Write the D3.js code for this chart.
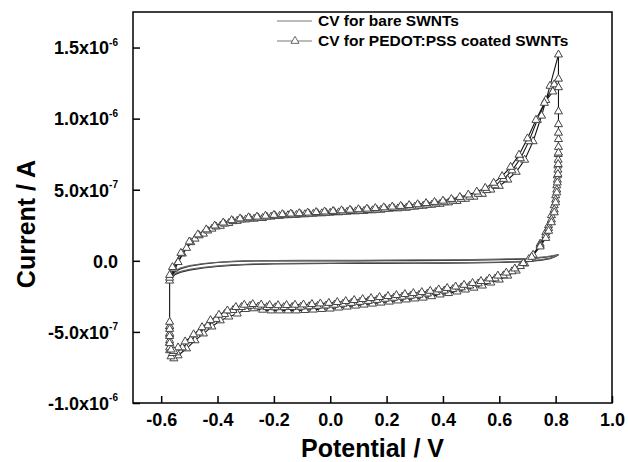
<!DOCTYPE html>
<html><head><meta charset="utf-8">
<script src="https://cdn.jsdelivr.net/npm/d3@7"></script>
<style>body{margin:0;background:#fff}svg{display:block}</style>
</head><body><svg id="c" width="628" height="462"></svg>
<script>
// ---- tick labels ----
const xTicks = [-0.6, -0.4, -0.2, 0.0, 0.2, 0.4, 0.6, 0.8, 1.0];
const xTickLabels = ["-0.6", "-0.4", "-0.2", "0.0", "0.2", "0.4", "0.6", "0.8", "1.0"];
const yTicks = [-1.0e-6, -5.0e-7, 0, 5.0e-7, 1.0e-6, 1.5e-6];
const yTickMantissa = ["-1.0", "-5.0", "0.0", "5.0", "1.0", "1.5"];
const yTickExponent = ["-6", "-7", "", "-7", "-6", "-6"];

const seriesNames = ["CV for bare SWNTs", "CV for PEDOT:PSS coated SWNTs"];

// ---- PEDOT:PSS coated SWNTs, three cycles (current in units of 1e-7 A) ----
const pedotAnodicPotential1 = [-0.57,-0.54,-0.51,-0.48,-0.45,-0.42,-0.39,-0.36,-0.33,-0.30,-0.27,-0.24,-0.21,-0.18,-0.15,-0.12,-0.09,-0.06,-0.03,0.00,0.03,0.06,0.09,0.12,0.15,0.18,0.21,0.24,0.27,0.30,0.33,0.36,0.39,0.42,0.45,0.48,0.51,0.54,0.57,0.60,0.63,0.66,0.69,0.72,0.75,0.78,0.81];
const pedotAnodic1 = [-1.4,-0.1,0.9,1.55,1.9,2.25,2.45,2.65,2.8,2.9,2.95,3.0,3.1,3.15,3.2,3.22,3.26,3.3,3.33,3.37,3.4,3.44,3.47,3.5,3.54,3.58,3.65,3.68,3.72,3.8,3.86,3.93,4.0,4.1,4.2,4.35,4.5,4.7,5.0,5.26,5.7,6.25,7.1,8.4,10.2,12.3,14.5];
const pedotCathodicPotential1 = [0.81,0.81,0.809,0.808,0.806,0.804,0.80,0.795,0.785,0.775,0.765,0.745,0.72,0.69,0.66,0.63,0.60,0.57,0.54,0.51,0.48,0.45,0.42,0.39,0.36,0.33,0.30,0.27,0.24,0.21,0.18,0.15,0.12,0.09,0.06,0.03,0.00,-0.03,-0.06,-0.09,-0.12,-0.15,-0.18,-0.21,-0.24,-0.27,-0.30,-0.33,-0.36,-0.39,-0.42,-0.45,-0.48,-0.51,-0.54,-0.555,-0.565,-0.57,-0.57,-0.57,-0.57];
const pedotCathodic1 = [10.5,8.55,7.5,6.7,6.0,5.3,4.6,3.9,3.2,2.5,2.0,1.2,0.42,-0.2,-0.7,-1.05,-1.33,-1.54,-1.75,-1.9,-2.03,-2.17,-2.28,-2.38,-2.5,-2.6,-2.66,-2.73,-2.8,-2.88,-2.95,-3.02,-3.09,-3.16,-3.23,-3.3,-3.37,-3.4,-3.44,-3.47,-3.5,-3.5,-3.5,-3.5,-3.45,-3.35,-3.4,-3.72,-3.93,-4.2,-4.63,-5.12,-5.6,-6.17,-6.66,-6.87,-6.73,-6.3,-5.75,-5.2,-4.63];

const pedotAnodicPotential2 = [-0.57,-0.555,-0.525,-0.495,-0.465,-0.435,-0.405,-0.375,-0.345,-0.315,-0.285,-0.255,-0.225,-0.195,-0.165,-0.135,-0.105,-0.075,-0.045,-0.015,0.015,0.045,0.075,0.105,0.135,0.165,0.195,0.225,0.255,0.285,0.315,0.345,0.375,0.405,0.435,0.465,0.495,0.525,0.555,0.585,0.615,0.645,0.675,0.705,0.735,0.765,0.795,0.81];
const pedotAnodic2 = [-1.2,-0.55,0.5,1.3,1.78,2.12,2.4,2.6,2.78,2.9,2.98,3.02,3.09,3.15,3.2,3.24,3.27,3.3,3.34,3.38,3.42,3.45,3.49,3.52,3.56,3.6,3.65,3.7,3.75,3.8,3.87,3.94,4.02,4.11,4.22,4.35,4.5,4.7,4.96,5.3,5.75,6.35,7.2,8.4,9.9,11.3,12.4,12.8];
const pedotCathodicPotential2 = [0.81,0.81,0.809,0.808,0.806,0.804,0.80,0.795,0.785,0.775,0.765,0.745,0.705,0.675,0.645,0.615,0.585,0.555,0.525,0.495,0.465,0.435,0.405,0.375,0.345,0.315,0.285,0.255,0.225,0.195,0.165,0.135,0.105,0.075,0.045,0.015,-0.015,-0.045,-0.075,-0.105,-0.135,-0.165,-0.195,-0.225,-0.255,-0.285,-0.315,-0.345,-0.375,-0.405,-0.435,-0.465,-0.495,-0.525,-0.545,-0.56,-0.57,-0.57,-0.57,-0.57];
const pedotCathodic2 = [9.6,8.0,7.1,6.4,5.7,5.0,4.3,3.6,2.9,2.3,1.8,1.1,0.12,-0.38,-0.75,-1.03,-1.25,-1.44,-1.6,-1.75,-1.88,-2.0,-2.1,-2.2,-2.31,-2.4,-2.47,-2.53,-2.61,-2.68,-2.76,-2.83,-2.9,-2.97,-3.03,-3.1,-3.15,-3.18,-3.21,-3.24,-3.26,-3.27,-3.28,-3.27,-3.22,-3.17,-3.26,-3.47,-3.75,-4.1,-4.55,-5.05,-5.58,-6.1,-6.45,-6.5,-6.1,-5.6,-5.1,-4.6];

const pedotAnodicPotential3 = [-0.57,-0.56,-0.53,-0.50,-0.47,-0.44,-0.41,-0.38,-0.35,-0.32,-0.29,-0.26,-0.23,-0.20,-0.17,-0.14,-0.11,-0.08,-0.05,-0.02,0.01,0.04,0.07,0.10,0.13,0.16,0.19,0.22,0.25,0.28,0.31,0.34,0.37,0.40,0.43,0.46,0.49,0.52,0.55,0.58,0.61,0.64,0.67,0.70,0.73,0.76,0.79,0.81];
const pedotAnodic3 = [-1.0,-0.45,0.55,1.35,1.85,2.2,2.47,2.68,2.85,2.97,3.05,3.1,3.16,3.22,3.27,3.31,3.34,3.38,3.42,3.46,3.5,3.54,3.58,3.62,3.66,3.7,3.75,3.8,3.85,3.91,3.97,4.05,4.13,4.22,4.34,4.48,4.65,4.86,5.12,5.48,5.95,6.6,7.45,8.6,9.9,11.1,11.9,12.2];
const pedotCathodicPotential3 = [0.81,0.81,0.809,0.808,0.806,0.804,0.80,0.795,0.785,0.775,0.765,0.745,0.715,0.685,0.655,0.625,0.595,0.565,0.535,0.505,0.475,0.445,0.415,0.385,0.355,0.325,0.295,0.265,0.235,0.205,0.175,0.145,0.115,0.085,0.055,0.025,-0.005,-0.035,-0.065,-0.095,-0.125,-0.155,-0.185,-0.215,-0.245,-0.275,-0.305,-0.335,-0.365,-0.395,-0.425,-0.455,-0.485,-0.515,-0.54,-0.555,-0.565,-0.57,-0.57,-0.57,-0.57];
const pedotCathodic3 = [9.0,7.6,6.8,6.1,5.5,4.8,4.1,3.4,2.7,2.1,1.6,1.0,0.27,-0.17,-0.55,-0.84,-1.05,-1.25,-1.43,-1.57,-1.7,-1.82,-1.92,-2.02,-2.12,-2.21,-2.28,-2.35,-2.42,-2.49,-2.56,-2.63,-2.7,-2.77,-2.84,-2.91,-2.97,-3.01,-3.05,-3.08,-3.1,-3.12,-3.13,-3.12,-3.09,-3.05,-3.1,-3.26,-3.5,-3.8,-4.18,-4.68,-5.18,-5.68,-6.1,-6.35,-6.25,-5.8,-5.3,-4.8,-4.3];

// ---- bare SWNTs, two cycles (current in units of 1e-7 A) ----
const bareAnodicPotential = [-0.57,-0.56,-0.55,-0.53,-0.50,-0.45,-0.40,-0.35,-0.30,-0.20,-0.10,0.00,0.10,0.20,0.30,0.40,0.50,0.60,0.65,0.70,0.74,0.77,0.79,0.81];
const bareAnodic1 = [-1.5,-1.0,-0.75,-0.55,-0.38,-0.22,-0.12,-0.06,-0.02,0.0,0.0,0.0,0.0,0.01,0.02,0.03,0.05,0.08,0.1,0.14,0.2,0.27,0.33,0.42];
const bareAnodic2 = [-1.3,-0.9,-0.68,-0.5,-0.34,-0.19,-0.1,-0.04,-0.01,0.02,0.03,0.03,0.04,0.05,0.06,0.07,0.09,0.12,0.14,0.18,0.24,0.3,0.36,0.44];
const bareCathodicPotential = [0.81,0.80,0.78,0.75,0.70,0.60,0.50,0.40,0.30,0.20,0.10,0.00,-0.10,-0.20,-0.30,-0.35,-0.40,-0.45,-0.50,-0.53,-0.55,-0.56,-0.57];
const bareCathodic1 = [0.42,0.3,0.15,0.05,-0.05,-0.12,-0.15,-0.16,-0.17,-0.18,-0.18,-0.19,-0.2,-0.22,-0.27,-0.32,-0.4,-0.5,-0.65,-0.8,-0.95,-1.15,-1.5];
const bareCathodic2 = [0.44,0.33,0.19,0.08,-0.02,-0.09,-0.12,-0.13,-0.14,-0.15,-0.15,-0.16,-0.17,-0.19,-0.24,-0.29,-0.36,-0.46,-0.6,-0.74,-0.88,-1.05,-1.3];

const unit = 1e-7;

const svg = d3.select("#c");
const pL = 133, pR = 612, pT = 12, pB = 403;
const x = d3.scaleLinear().domain([-0.7, 1.0]).range([pL, pR]);
const y = d3.scaleLinear().domain([-1.0e-6, 1.75e-6]).range([pB, pT]);

const font = "'Liberation Sans', Arial, Helvetica, sans-serif";

// frame
svg.append("rect").attr("x", pL).attr("y", pT).attr("width", pR - pL).attr("height", pB - pT)
  .attr("fill", "none").attr("stroke", "#000").attr("stroke-width", 1.5);

// x axis
const gx = svg.append("g").attr("transform", `translate(0,${pB})`)
  .call(d3.axisBottom(x).tickValues(xTicks).tickSize(-7).tickSizeOuter(0).tickFormat((d, i) => xTickLabels[i]));
gx.select(".domain").remove();
gx.selectAll(".tick line").attr("stroke", "#000").attr("stroke-width", 1.5);
gx.selectAll(".tick text").attr("y", 10).attr("dy", "0.71em")
  .attr("font-family", font).attr("font-weight", "bold").attr("font-size", 18).attr("fill", "#000");

// y axis
const gy = svg.append("g").attr("transform", `translate(${pL},0)`)
  .call(d3.axisLeft(y).tickValues(yTicks).tickSize(-7).tickSizeOuter(0).tickFormat(""));
gy.select(".domain").remove();
gy.selectAll(".tick line").attr("stroke", "#000").attr("stroke-width", 1.5);
gy.selectAll(".tick text").remove();
gy.selectAll(".tick").each(function (d, i) {
  const t = d3.select(this).append("text")
    .attr("x", -15).attr("dy", "0.35em").attr("text-anchor", "end")
    .attr("font-family", font).attr("font-weight", "bold").attr("font-size", 18).attr("fill", "#000");
  if (yTickExponent[i] === "") {
    t.text(yTickMantissa[i]);
  } else {
    t.append("tspan").text(yTickMantissa[i] + "x10");
    t.append("tspan").attr("font-size", 10).attr("dy", "-0.85em").text(yTickExponent[i]);
  }
});

// axis titles
svg.append("text").attr("x", (pL + pR) / 2).attr("y", 457).attr("text-anchor", "middle")
  .attr("font-family", font).attr("font-weight", "bold").attr("font-size", 25).text("Potential / V");
svg.append("text").attr("transform", "translate(35,224) rotate(-90)").attr("text-anchor", "middle")
  .attr("font-family", font).attr("font-weight", "bold").attr("font-size", 25).text("Current / A");

// data assembly
function pts(pot, cur) { return pot.map((v, i) => [v, cur[i] * unit]); }
const line = d3.line().x(d => x(d[0])).y(d => y(d[1]));

const bareCycles = [
  pts(bareAnodicPotential, bareAnodic1).concat(pts(bareCathodicPotential, bareCathodic1)),
  pts(bareAnodicPotential, bareAnodic2).concat(pts(bareCathodicPotential, bareCathodic2))
];
const pedotAll = [].concat(
  pts(pedotAnodicPotential1, pedotAnodic1), pts(pedotCathodicPotential1, pedotCathodic1),
  pts(pedotAnodicPotential2, pedotAnodic2), pts(pedotCathodicPotential2, pedotCathodic2),
  pts(pedotAnodicPotential3, pedotAnodic3), pts(pedotCathodicPotential3, pedotCathodic3)
);

// bare SWNT lines
svg.append("g").selectAll("path").data(bareCycles).join("path")
  .attr("d", line).attr("fill", "none")
  .attr("stroke", (d, i) => i === 0 ? "#222" : "#666").attr("stroke-width", 1.2);

// PEDOT line + triangles
svg.append("path").datum(pedotAll).attr("d", line).attr("fill", "none")
  .attr("stroke", "#111").attr("stroke-width", 1.1);
const tri = d3.symbol().type(d3.symbolTriangle).size(28);
svg.append("g").selectAll("path").data(pedotAll).join("path")
  .attr("transform", d => `translate(${x(d[0])},${y(d[1])})`)
  .attr("d", tri).attr("fill", "#fff").attr("stroke", "#444").attr("stroke-width", 1);

// legend
const lg = svg.append("g");
lg.append("line").attr("x1", 277).attr("x2", 312).attr("y1", 21).attr("y2", 21).attr("stroke", "#777").attr("stroke-width", 1);
lg.append("line").attr("x1", 277).attr("x2", 312).attr("y1", 41).attr("y2", 41).attr("stroke", "#777").attr("stroke-width", 1);
lg.append("path").attr("transform", "translate(295,41)").attr("d", tri).attr("fill", "#fff").attr("stroke", "#555").attr("stroke-width", 0.9);
lg.selectAll("text").data(seriesNames).join("text")
  .attr("x", 318).attr("y", (d, i) => 26 + i * 20)
  .attr("font-family", font).attr("font-weight", "bold").attr("font-size", 15.5).text(d => d);
</script></body></html>
